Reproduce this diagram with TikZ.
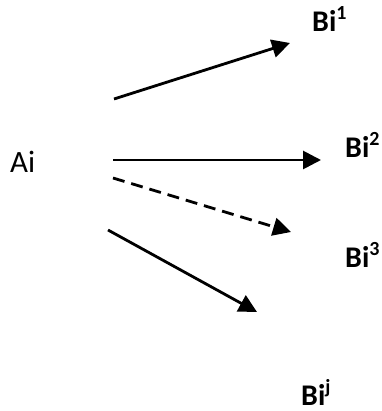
\documentclass[tikz,border=0pt]{standalone}
\usepackage{fontspec}
\setmainfont{Carlito}
\usetikzlibrary{arrows.meta}
\newcommand{\supx}[1]{\raisebox{12pt}{\fontsize{20}{20}\selectfont #1}}
\tikzset{
  lbl/.style={anchor=base west, inner sep=0pt, font=\fontsize{31}{31}\selectfont},
  blbl/.style={anchor=base west, inner sep=0pt, font=\fontsize{30}{30}\selectfont\bfseries},
  arr/.style={line width=2.8pt, -{Triangle[length=18pt,width=18pt]}},
}
\begin{document}
\begin{tikzpicture}[x=1pt,y=-1pt]
\useasboundingbox (0,0) rectangle (381,411);
\node[lbl] (ai) at (10,173) {Ai};
\node[blbl] (b1) at (312,32) {Bi\supx{1}};
\node[blbl] (b2) at (345,158) {Bi\supx{2}};
\node[blbl] (b3) at (345,267) {Bi\supx{3}};
\node[blbl] (bj) at (301,405) {Bi\supx{j}};
\coordinate (s1) at (114,99);
\coordinate (e1) at (290,43);
\coordinate (s2) at (113,160);
\coordinate (e2) at (321,160);
\coordinate (s3) at (113,178);
\coordinate (e3) at (291,232);
\coordinate (s4) at (108,230);
\coordinate (e4) at (257,312);
\draw[arr] (s1) -- (e1);
\draw[arr] (s2) -- (e2);
\draw[arr, dash pattern=on 12pt off 7pt] (s3) -- (e3);
\draw[arr] (s4) -- (e4);
\end{tikzpicture}
\end{document}
